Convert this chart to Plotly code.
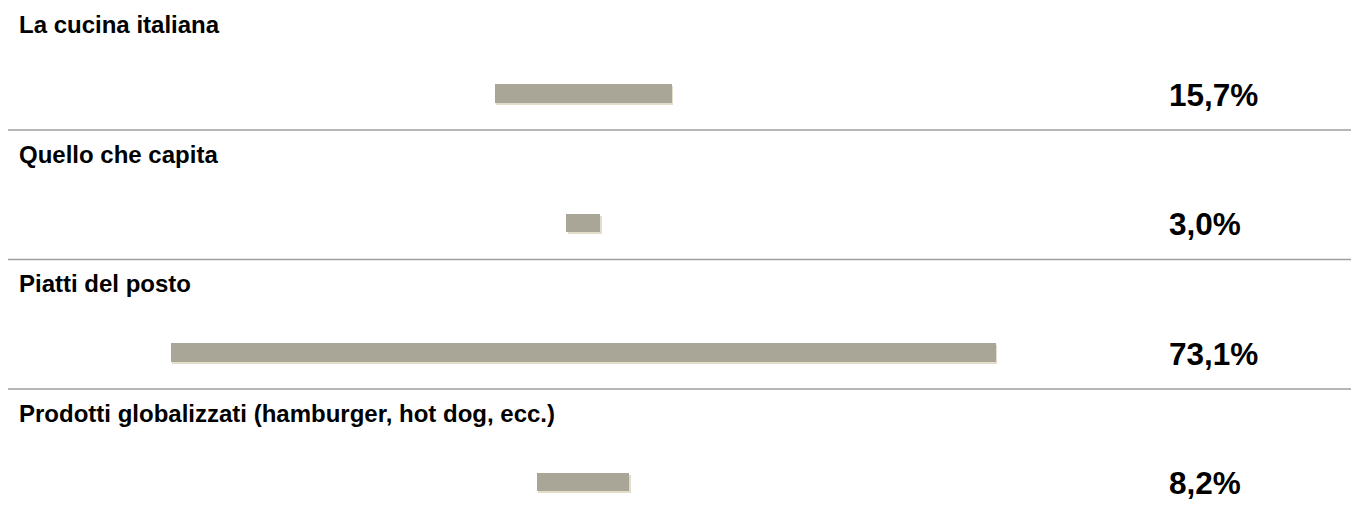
import plotly.graph_objects as go

categories = [
    "La cucina italiana",
    "Quello che capita",
    "Piatti del posto",
    "Prodotti globalizzati (hamburger, hot dog, ecc.)",
]
values = [15.7, 3.0, 73.1, 8.2]
value_labels = ["15,7%", "3,0%", "73,1%", "8,2%"]

W, H = 1351, 511
PX_PER_UNIT_X = 11.29
CENTER_PX = 583.2
ROW_PX = 129.5
FIRST_BAR_PX = 93.5

x_range = [-CENTER_PX / PX_PER_UNIT_X, (W - CENTER_PX) / PX_PER_UNIT_X]
y_range = [(H - FIRST_BAR_PX) / ROW_PX, -FIRST_BAR_PX / ROW_PX]

idx = list(range(len(categories)))
bases = [-v / 2 for v in values]
bar_w = 18.5 / ROW_PX

fig = go.Figure()
# subtle light edge (shadow) under/right of each bar
fig.add_trace(go.Bar(
    y=idx, x=values, base=[b + 1.5 / PX_PER_UNIT_X for b in bases],
    orientation="h", width=bar_w, offset=-bar_w / 2 + 2.0 / ROW_PX,
    marker=dict(color="#E2DEC9", line=dict(width=0)),
    hoverinfo="skip", showlegend=False,
))
fig.add_trace(go.Bar(
    y=idx, x=values, base=bases,
    orientation="h", width=bar_w, offset=-bar_w / 2,
    marker=dict(color="#A9A597", line=dict(width=0)),
    showlegend=False,
))

font_family = "Liberation Sans, Arial, sans-serif"
for i, (cat, lab) in enumerate(zip(categories, value_labels)):
    fig.add_annotation(
        x=17 / W, xref="paper", y=i - 0.529, yref="y",
        text=f"<b>{cat}</b>", showarrow=False,
        xanchor="left", yanchor="middle",
        font=dict(family=font_family, size=24, color="#000000"),
    )
    fig.add_annotation(
        x=1167 / W, xref="paper", y=i + 0.008, yref="y",
        text=f"<b>{lab}</b>", showarrow=False,
        xanchor="left", yanchor="middle",
        font=dict(family=font_family, size=31.5, color="#000000"),
    )
    if i < len(categories) - 1:
        fig.add_shape(
            type="line", xref="paper", yref="y",
            x0=8 / W, x1=1, y0=i + 0.282, y1=i + 0.282,
            line=dict(color="#9E9E9E", width=1.5),
        )

fig.update_layout(
    width=W, height=H,
    margin=dict(l=0, r=0, t=0, b=0),
    paper_bgcolor="white", plot_bgcolor="white",
    barmode="overlay", bargap=0,
    xaxis=dict(range=x_range, visible=False, fixedrange=True),
    yaxis=dict(range=y_range, visible=False, fixedrange=True),
    showlegend=False,
)

fig.write_html(
    "out.html",
    config={"displayModeBar": False},
    post_script="document.body.style.margin='0';document.body.style.overflow='hidden';",
)
